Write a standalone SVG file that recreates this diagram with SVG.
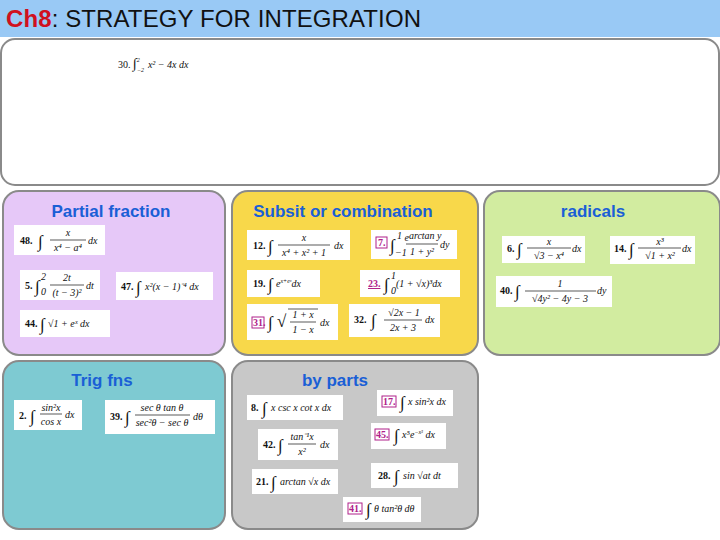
<svg xmlns="http://www.w3.org/2000/svg" width="720" height="540" viewBox="0 0 720 540">
<defs>
<style>
.p{stroke:#8a8a8a;stroke-width:2}
.h{font-family:"Liberation Sans",Arial,sans-serif;font-size:17px;font-weight:bold;fill:#1a5fd6;text-anchor:middle}
.b{fill:#fff}
.f{font-family:"Liberation Serif","Times New Roman",serif;font-size:10px;fill:#111;font-style:italic}
.n{font-family:"Liberation Serif","Times New Roman",serif;font-size:10px;fill:#111;font-weight:bold}
.i{font-family:"Liberation Serif","Times New Roman",serif;font-size:17px;fill:#111}
.m{font-family:"Liberation Serif","Times New Roman",serif;font-size:10px;fill:#b0208a;font-weight:bold}
.r{fill:none;stroke:#b0208a;stroke-width:1}
.l{stroke:#111;stroke-width:0.7}
</style>
</defs>
<rect x="0" y="0" width="720" height="37" fill="#99c9f5"/>
<text x="6" y="27" font-family="Liberation Sans,Arial,sans-serif" font-size="24" fill="#111" textLength="415"><tspan fill="#d01020" font-weight="bold">Ch8</tspan>: STRATEGY FOR INTEGRATION</text>

<g id="top"><rect x="1" y="39" width="718" height="146" rx="14" fill="#fff" class="p"/>
<text x="118" y="68" class="f"><tspan font-style="normal">30. </tspan><tspan font-size="14" font-style="normal">∫</tspan><tspan font-size="6" dy="-6">2</tspan><tspan font-size="6" dx="-3" dy="10">−2</tspan><tspan dy="-4" dx="4">x² − 4x   dx</tspan></text></g>

<g id="partial"><rect x="3" y="191" width="222" height="164" rx="16" fill="#e6c8f8" class="p"/>
<text x="111" y="217" class="h">Partial fraction</text>
<rect x="14" y="225" width="91" height="30" class="b"/>
<text x="20" y="244" class="n">48.</text><text x="38" y="247" class="i">∫</text>
<text x="68" y="236" class="f" text-anchor="middle">x</text><line x1="50" y1="240" x2="86" y2="240" class="l"/><text x="68" y="251" class="f" text-anchor="middle">x⁴ − a⁴</text><text x="88" y="244" class="f">dx</text>
<rect x="20" y="270" width="80" height="30" class="b"/>
<text x="25" y="289" class="n">5.</text><text x="35" y="292" class="i">∫</text><text x="41" y="280" class="f" font-size="6">2</text><text x="41" y="295" class="f" font-size="6">0</text>
<text x="67" y="281" class="f" text-anchor="middle">2t</text><line x1="50" y1="285" x2="84" y2="285" class="l"/><text x="67" y="296" class="f" text-anchor="middle">(t − 3)²</text><text x="86" y="289" class="f">dt</text>
<rect x="116" y="272" width="97" height="28" class="b"/>
<text x="121" y="290" class="n">47.</text><text x="136" y="293" class="i">∫</text><text x="145" y="290" class="f">x²(x − 1)⁻⁴ dx</text>
<rect x="20" y="310" width="90" height="27" class="b"/>
<text x="25" y="327" class="n">44.</text><text x="40" y="330" class="i">∫</text><text x="48" y="327" class="f">√1 + eˣ  dx</text>
</g>

<g id="subsit"><rect x="232" y="191" width="246" height="164" rx="16" fill="#f8d84a" class="p"/>
<text x="343" y="217" class="h">Subsit or combination</text>
<rect x="247" y="230" width="103" height="30" class="b"/>
<text x="253" y="249" class="n">12.</text><text x="268" y="252" class="i">∫</text>
<text x="304" y="241" class="f" text-anchor="middle">x</text><line x1="278" y1="245" x2="330" y2="245" class="l"/><text x="304" y="256" class="f" text-anchor="middle">x⁴ + x² + 1</text><text x="334" y="249" class="f">dx</text>
<rect x="371" y="230" width="86" height="29" class="b"/>
<rect x="376" y="237" width="11" height="11" class="r"/><text x="378" y="246" class="m">7.</text><text x="390" y="251" class="i">∫</text><text x="397" y="239" class="f" font-size="6">1</text><text x="395" y="256" class="f" font-size="6">−1</text>
<text x="423" y="241" class="f" text-anchor="middle" font-size="6">e<tspan dy="-2">arctan y</tspan></text><line x1="406" y1="244" x2="438" y2="244" class="l"/><text x="422" y="255" class="f" text-anchor="middle">1 + y²</text><text x="440" y="248" class="f">dy</text>
<rect x="247" y="270" width="73" height="27" class="b"/>
<text x="253" y="287" class="n">19.</text><text x="268" y="290" class="i">∫</text><text x="276" y="287" class="f">e<tspan font-size="6" dy="-4">x+eˣ</tspan><tspan dy="4">dx</tspan></text>
<rect x="360" y="270" width="100" height="27" class="b"/>
<text x="368" y="287" class="m" text-decoration="underline">23.</text><text x="384" y="290" class="i">∫</text><text x="391" y="279" class="f" font-size="6">1</text><text x="391" y="294" class="f" font-size="6">0</text><text x="396" y="287" class="f">(1 + √x)³dx</text>
<rect x="247" y="304" width="91" height="36" class="b"/>
<rect x="252" y="317" width="12" height="11" class="r"/><text x="253" y="326" class="m">31.</text><text x="268" y="328" class="i">∫</text>
<text x="277" y="327" class="i" font-size="20">√</text><line x1="288" y1="309" x2="318" y2="309" class="l"/>
<text x="303" y="318" class="f" text-anchor="middle">1 + x</text><line x1="290" y1="322" x2="316" y2="322" class="l"/><text x="303" y="333" class="f" text-anchor="middle">1 − x</text><text x="320" y="326" class="f">dx</text>
<rect x="349" y="304" width="91" height="33" class="b"/>
<text x="354" y="323" class="n">32.</text><text x="371" y="326" class="i">∫</text>
<text x="404" y="316" class="f" text-anchor="middle">√2x − 1</text><line x1="384" y1="320" x2="422" y2="320" class="l"/><text x="403" y="331" class="f" text-anchor="middle">2x + 3</text><text x="425" y="323" class="f">dx</text>
</g>

<g id="radicals"><rect x="484" y="191" width="236" height="164" rx="16" fill="#d2eca0" class="p"/>
<text x="593" y="217" class="h">radicals</text>
<rect x="502" y="236" width="83" height="27" class="b"/>
<text x="507" y="252" class="n">6.</text><text x="517" y="255" class="i">∫</text>
<text x="549" y="245" class="f" text-anchor="middle">x</text><line x1="527" y1="248" x2="571" y2="248" class="l"/><text x="549" y="259" class="f" text-anchor="middle">√3 − x⁴</text><text x="572" y="252" class="f">dx</text>
<rect x="610" y="236" width="85" height="28" class="b"/>
<text x="614" y="252" class="n">14.</text><text x="629" y="255" class="i">∫</text>
<text x="660" y="245" class="f" text-anchor="middle">x³</text><line x1="638" y1="248" x2="681" y2="248" class="l"/><text x="660" y="259" class="f" text-anchor="middle">√1 + x²</text><text x="682" y="252" class="f">dx</text>
<rect x="496" y="276" width="116" height="31" class="b"/>
<text x="500" y="294" class="n">40.</text><text x="515" y="297" class="i">∫</text>
<text x="560" y="287" class="f" text-anchor="middle">1</text><line x1="525" y1="291" x2="596" y2="291" class="l"/><text x="560" y="302" class="f" text-anchor="middle">√4y² − 4y − 3</text><text x="597" y="294" class="f">dy</text>
</g>

<g id="trig"><rect x="3" y="361" width="222" height="168" rx="16" fill="#7ecad2" class="p"/>
<text x="102" y="386" class="h">Trig fns</text>
<rect x="14" y="400" width="68" height="30" class="b"/>
<text x="19" y="419" class="n">2.</text><text x="30" y="422" class="i">∫</text>
<text x="51" y="411" class="f" text-anchor="middle">sin²x</text><line x1="40" y1="414" x2="62" y2="414" class="l"/><text x="51" y="425" class="f" text-anchor="middle">cos x</text><text x="65" y="418" class="f">dx</text>
<rect x="105" y="400" width="110" height="34" class="b"/>
<text x="110" y="420" class="n">39.</text><text x="125" y="423" class="i">∫</text>
<text x="162" y="411" class="f" text-anchor="middle">sec θ tan θ</text><line x1="135" y1="415" x2="190" y2="415" class="l"/><text x="162" y="426" class="f" text-anchor="middle">sec²θ − sec θ</text><text x="193" y="420" class="f">dθ</text>
</g>

<g id="byparts"><rect x="232" y="361" width="246" height="168" rx="16" fill="#c8c8c8" class="p"/>
<text x="335" y="386" class="h">by parts</text>
<rect x="247" y="395" width="96" height="25" class="b"/>
<text x="251" y="411" class="n">8.</text><text x="262" y="414" class="i">∫</text><text x="271" y="411" class="f">x csc x  cot x dx</text>
<rect x="377" y="390" width="76" height="26" class="b"/>
<rect x="382" y="396" width="14" height="11" class="r"/><text x="383" y="405" class="m">17.</text><text x="400" y="408" class="i">∫</text><text x="408" y="405" class="f">x sin²x dx</text>
<rect x="258" y="429" width="80" height="31" class="b"/>
<text x="263" y="448" class="n">42.</text><text x="278" y="451" class="i">∫</text>
<text x="302" y="440" class="f" text-anchor="middle">tan⁻¹x</text><line x1="288" y1="444" x2="316" y2="444" class="l"/><text x="302" y="455" class="f" text-anchor="middle">x²</text><text x="320" y="448" class="f">dx</text>
<rect x="371" y="423" width="75" height="26" class="b"/>
<rect x="375" y="429" width="14" height="11" class="r"/><text x="376" y="438" class="m">45.</text><text x="394" y="441" class="i">∫</text><text x="402" y="438" class="f">x⁵e<tspan font-size="6" dy="-4">−x³</tspan><tspan dy="4"> dx</tspan></text>
<rect x="252" y="469" width="86" height="25" class="b"/>
<text x="256" y="485" class="n">21.</text><text x="271" y="488" class="i">∫</text><text x="280" y="485" class="f">arctan √x  dx</text>
<rect x="371" y="463" width="87" height="25" class="b"/>
<text x="378" y="479" class="n">28.</text><text x="394" y="482" class="i">∫</text><text x="403" y="479" class="f">sin √at  dt</text>
<rect x="343" y="497" width="78" height="25" class="b"/>
<rect x="348" y="503" width="14" height="11" class="r"/><text x="349" y="512" class="m">41.</text><text x="366" y="515" class="i">∫</text><text x="374" y="512" class="f">θ tan²θ dθ</text>
</g>
</svg>
